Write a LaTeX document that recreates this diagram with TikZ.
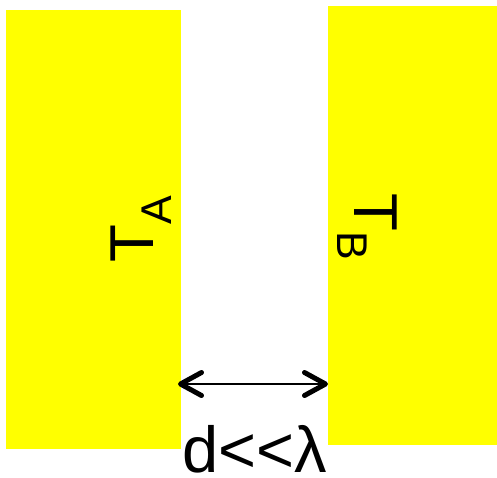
\documentclass[tikz,border=0pt]{standalone}
\usepackage{fontspec}
\setmainfont{Liberation Sans}
\usepackage{tikz}
\usetikzlibrary{arrows.meta}
\definecolor{slabcol}{RGB}{255,255,0}

\begin{document}
\begin{tikzpicture}[x=1pt, y=-1pt,
    bigfont/.style={font=\fontsize{62}{62}\selectfont},
    lbl/.style={bigfont, inner sep=0pt, anchor=base west},
    barb/.tip={Straight Barb[length=21pt, width=23pt, line width=5pt, round]}]

    \useasboundingbox (0,0) rectangle (497,477);

    %% Two half-spaces at temperatures T_A and T_B
    \fill[slabcol] (6,10) rectangle (181,449);
    \fill[slabcol] (328,6) rectangle (497,445);

    %% Temperature labels (rotated)
    \node[lbl, rotate=90] (tA) at (153,263)
      {T\raisebox{-18pt}{\fontsize{43}{43}\selectfont A}};
    \node[lbl, rotate=-90] (tB) at (354,193)
      {T\raisebox{-17pt}{\fontsize{43}{43}\selectfont B}};

    %% Gap width
    \coordinate (gapL) at (178,384);
    \coordinate (gapR) at (328,384);
    \draw[line width=2pt, barb-barb] (gapL) -- (gapR);
    \node[font=\fontsize{65}{65}\selectfont, inner sep=0pt, text depth=0pt,
      anchor=base] (gap) at (255,472) {d{<}\kern0pt{<}λ};

\end{tikzpicture}
\end{document}
